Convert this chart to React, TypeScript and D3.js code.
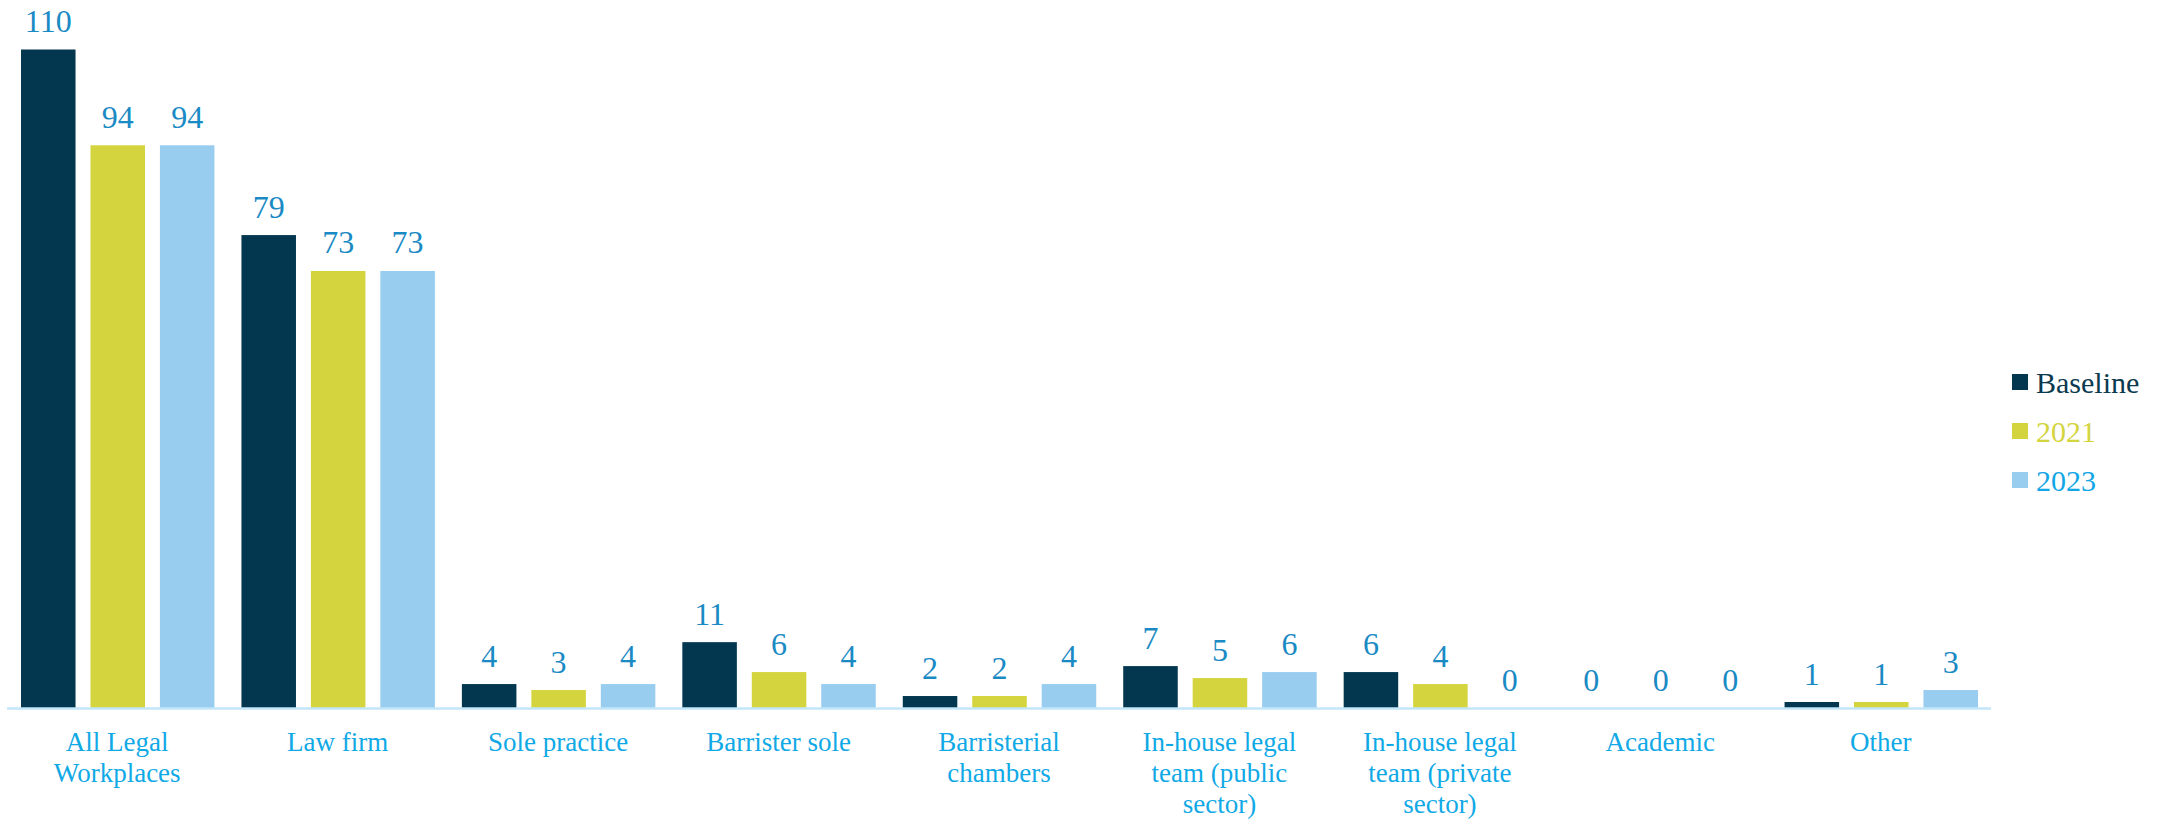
import React from "react";
import * as d3 from "d3";

const categories = [
  "All Legal\nWorkplaces",
  "Law firm",
  "Sole practice",
  "Barrister sole",
  "Barristerial\nchambers",
  "In-house legal\nteam (public\nsector)",
  "In-house legal\nteam (private\nsector)",
  "Academic",
  "Other",
];
const seriesNames = ["Baseline", "2021", "2023"];
const baseline = [110, 79, 4, 11, 2, 7, 6, 0, 1];
const y2021 = [94, 73, 3, 6, 2, 5, 4, 0, 1];
const y2023 = [94, 73, 4, 4, 4, 6, 0, 0, 3];
const seriesValues = [baseline, y2021, y2023];
const barColors = ["#03374F", "#D4D43F", "#98CDF0"];
const legendTextColors = ["#0B3A50", "#D4D43F", "#13A6E6"];

const W = 2163;
const H = 819;
const FONT = "'Liberation Serif', 'Times New Roman', serif";

export default function App() {
  const x0 = d3.scaleBand<string>().domain(categories).range([7, 1991]).paddingInner(0).paddingOuter(0);
  const x1 = d3
    .scaleBand<string>()
    .domain(seriesNames)
    .range([14, x0.bandwidth() - 13])
    .paddingInner(0.215)
    .paddingOuter(0);
  const y = d3.scaleLinear().domain([0, 110]).range([708, 49.5]);

  return (
    <svg
      width={W}
      height={H}
      style={{ position: "absolute", left: 0, top: 0, background: "#fff" }}
      fontFamily={FONT}
    >
      {categories.map((cat, ci) => (
        <g key={cat} transform={`translate(${x0(cat)},0)`}>
          {seriesNames.map((s, si) => {
            const v = seriesValues[si][ci];
            const bx = x1(s)!;
            return (
              <g key={s}>
                {v > 0 && (
                  <rect x={bx} y={y(v)} width={x1.bandwidth()} height={y(0) - y(v)} fill={barColors[si]} />
                )}
                <text
                  x={bx + x1.bandwidth() / 2}
                  y={y(v) - 17.5}
                  textAnchor="middle"
                  fontSize={32}
                  fill="#1A8AC4"
                >
                  {v}
                </text>
              </g>
            );
          })}
          {cat.split("\n").map((line, li) => (
            <text
              key={li}
              x={x0.bandwidth() / 2}
              y={751 + li * 30.8}
              textAnchor="middle"
              fontSize={27}
              fill="#10A9E6"
            >
              {line}
            </text>
          ))}
        </g>
      ))}
      <line x1={7} x2={1991} y1={y(0) + 0.5} y2={y(0) + 0.5} stroke="#C2E6F8" strokeWidth={2.5} />
      {seriesNames.map((s, si) => (
        <g key={s} transform={`translate(2012,${374 + si * 49})`}>
          <rect x={0} y={0} width={16} height={16} fill={barColors[si]} />
          <text x={24} y={18.5} fontSize={30} fill={legendTextColors[si]}>
            {s}
          </text>
        </g>
      ))}
    </svg>
  );
}
